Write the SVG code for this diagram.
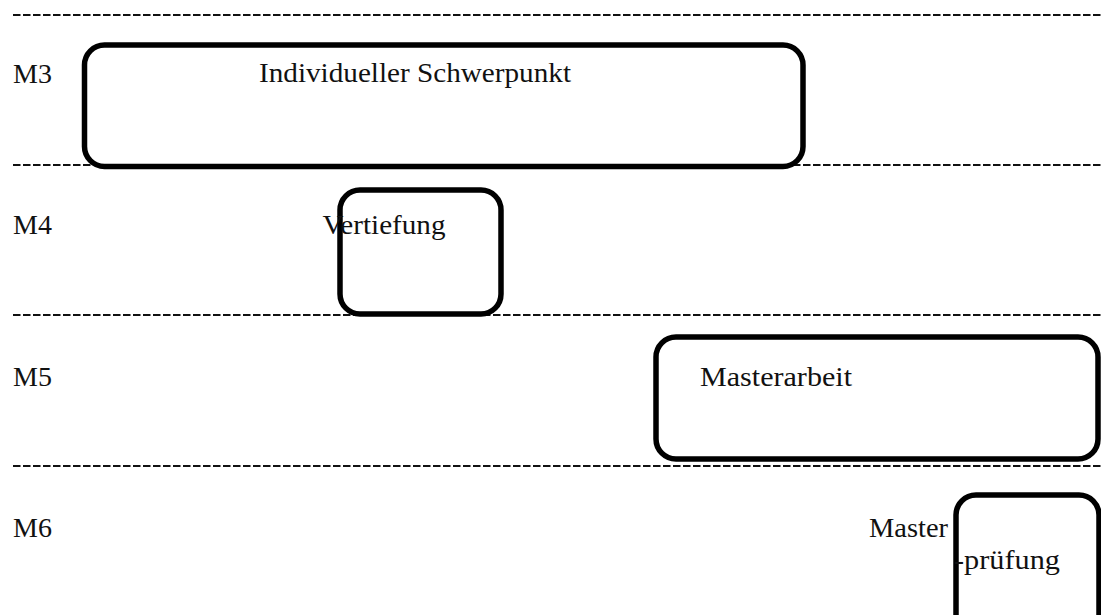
<svg xmlns="http://www.w3.org/2000/svg" width="1101" height="615" viewBox="0 0 1101 615">
<style>
.sep{stroke:#111;stroke-width:2;stroke-dasharray:7.5 2.5;fill:none}
.box{fill:none;stroke:#000;stroke-width:5.5}
.t{font-family:"Liberation Serif","DejaVu Serif",serif;font-size:28px;fill:#111}
</style>
<rect width="1101" height="615" fill="#fff"/>
<g id="lanes">
<line class="sep" x1="13" y1="15" x2="1101" y2="15"/>
<line class="sep" x1="13" y1="165" x2="1101" y2="165"/>
<line class="sep" x1="13" y1="315" x2="1101" y2="315"/>
<line class="sep" x1="13" y1="466" x2="1101" y2="466"/>
<text class="t" x="13" y="83">M3</text>
<text class="t" x="13" y="234">M4</text>
<text class="t" x="13" y="386">M5</text>
<text class="t" x="13" y="537">M6</text>
</g>
<g id="schwerpunkt">
<rect class="box" x="84.5" y="45" width="718.5" height="121.5" rx="20"/>
<text class="t" x="259" y="82" textLength="312" lengthAdjust="spacingAndGlyphs">Individueller Schwerpunkt</text>
</g>
<g id="vertiefung">
<rect class="box" x="340" y="190" width="161" height="124" rx="20"/>
<text class="t" x="322.5" y="234" textLength="123" lengthAdjust="spacingAndGlyphs">Vertiefung</text>
</g>
<g id="masterarbeit">
<rect class="box" x="656" y="337" width="442" height="122" rx="20"/>
<text class="t" x="700" y="386" textLength="152" lengthAdjust="spacingAndGlyphs">Masterarbeit</text>
</g>
<g id="masterpruefung">
<rect class="box" x="956" y="495" width="143" height="150" rx="20"/>
<text class="t" x="869" y="537" textLength="79" lengthAdjust="spacingAndGlyphs">Master</text>
<text class="t" x="954" y="569" textLength="106" lengthAdjust="spacingAndGlyphs">-prüfung</text>
</g>
<g id="connectors"/>
</svg>
